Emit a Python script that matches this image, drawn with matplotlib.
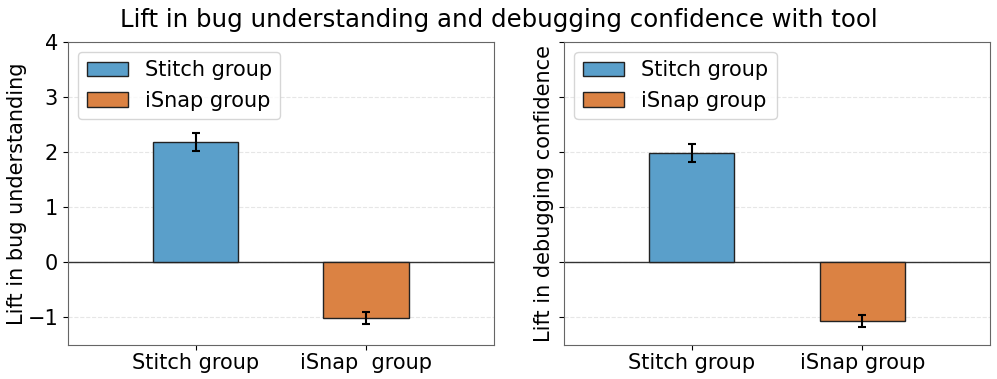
import matplotlib
matplotlib.use("Agg")
import matplotlib.pyplot as plt

groups = ["Stitch group", "iSnap group"]
left_ticklabels = ["Stitch group", "iSnap  group"]
right_ticklabels = ["Stitch group", "iSnap group"]
understanding = [2.18, -1.02]
understanding_err = [0.17, 0.11]
confidence = [1.98, -1.06]
confidence_err = [0.17, 0.11]
colors = ["#5a9fca", "#db8243"]


def draw(ax, values, errs, ticklabels, ylabel, labelpad):
    for i, (g, v, e) in enumerate(zip(groups, values, errs)):
        ax.bar(i, v, width=0.5, color=colors[i], edgecolor="#222222",
               linewidth=1, label=g, zorder=3)
        ax.errorbar(i, v, yerr=e, color="black", capsize=3, elinewidth=1.5,
                    capthick=1.5, zorder=4)
    ax.axhline(0, color="#333333", linewidth=1, zorder=2)
    ax.set_xlim(-0.75, 1.75)
    ax.set_ylim(-1.5, 4)
    ax.set_yticks([-1, 0, 1, 2, 3, 4])
    ax.set_xticks([0, 1])
    ax.set_xticklabels(ticklabels, fontsize=15)
    ax.set_ylabel(ylabel, fontsize=15, labelpad=labelpad)
    ax.tick_params(axis="y", labelsize=15)
    ax.tick_params(axis="x", pad=2)
    ax.grid(axis="y", linestyle="--", color="#e6e6e6", linewidth=0.8, zorder=0)
    for s in ax.spines.values():
        s.set_color("#666666")
    ax.legend(loc="upper left", fontsize=15)


fig, (ax1, ax2) = plt.subplots(1, 2, figsize=(9.97, 3.79), dpi=100, sharey=True)
draw(ax1, understanding, understanding_err, left_ticklabels,
     "Lift in bug understanding", 0)
draw(ax2, confidence, confidence_err, right_ticklabels,
     "Lift in debugging confidence", 4)
ax2.tick_params(axis="y", labelleft=False)
fig.suptitle("Lift in bug understanding and debugging confidence with tool",
             fontsize=17.6, y=0.98)
fig.subplots_adjust(left=0.068, right=0.993, top=0.89, bottom=0.09, wspace=0.165)
fig.savefig("out.png", dpi=100)
